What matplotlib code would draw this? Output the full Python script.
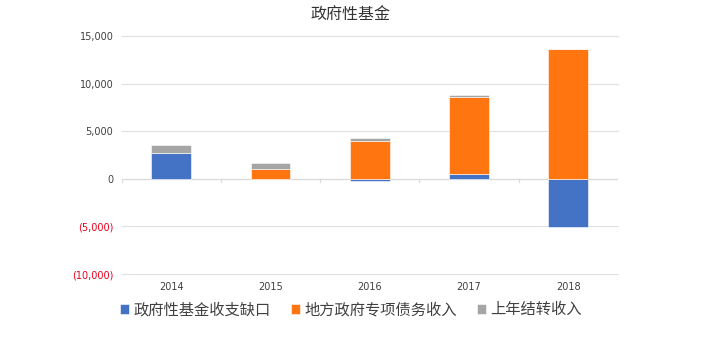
import matplotlib.pyplot as plt
import matplotlib.transforms as mtransforms
import numpy as np

plt.rcParams['font.family'] = ['Noto Sans CJK SC', 'DejaVu Sans']

years = ['2014', '2015', '2016', '2017', '2018']
gap = [2700, -30, -200, 500, -5100]             # 政府性基金收支缺口
special_bond = [0, 1080, 4000, 8060, 13630]     # 地方政府专项债务收入
carry_over = [850, 570, 300, 240, 0]            # 上年结转收入
series = [gap, special_bond, carry_over]
names = ['政府性基金收支缺口', '地方政府专项债务收入', '上年结转收入']
colors = ['#4472C4', '#FF7510', '#A5A5A5']

fig = plt.figure(figsize=(7.16, 3.5), dpi=100)
ax = fig.add_axes([0.170, 0.217, 0.693, 0.680])

x = np.arange(len(years))
pos_base = np.zeros(len(years))
neg_base = np.zeros(len(years))
for vals, name, c in zip(series, names, colors):
    v = np.array(vals, dtype=float)
    bottom = np.where(v >= 0, pos_base, neg_base)
    ax.bar(x, v, 0.4, bottom=bottom, color=c, label=name, zorder=3,
           edgecolor='white', linewidth=0.4)
    pos_base += np.where(v >= 0, v, 0)
    neg_base += np.where(v < 0, v, 0)

ax.set_xlim(-0.5, len(years) - 0.5)
ax.set_ylim(-10000, 15000)
yt = [-10000, -5000, 0, 5000, 10000, 15000]
ax.set_yticks(yt)
labels = []
for t in yt:
    labels.append('({:,})'.format(-t) if t < 0 else '{:,}'.format(t))
ax.set_yticklabels(labels, fontsize=7, family='DejaVu Sans')
for lab, t in zip(ax.get_yticklabels(), yt):
    lab.set_color('#E8001C' if t < 0 else '#404040')
ax.tick_params(axis='y', length=0, pad=6)
ax.set_xticks([])
for t in yt:
    if t != 0:
        ax.axhline(t, color='#E0E0E0', linewidth=0.8, zorder=0, clip_on=False)
for s in ax.spines.values():
    s.set_visible(False)

# zero line with category tick marks
ax.axhline(0, color='#D9D9D9', linewidth=0.9, zorder=2)
for b in np.arange(-0.5, len(years), 1.0):
    ax.plot([b, b], [0, -350], color='#D9D9D9', linewidth=0.9, zorder=2)

trans = mtransforms.blended_transform_factory(ax.transData, ax.transAxes)
for xi, yr in zip(x, years):
    ax.text(xi, -0.055, yr, transform=trans, ha='center', va='center',
            fontsize=7, color='#404040', family='DejaVu Sans')

fig.text(0.49, 0.955, '政府性基金', ha='center', va='center', fontsize=11.5,
         color='#333333')

fig.legend(loc='center', bbox_to_anchor=(0.49, 0.115), ncol=3, frameon=False,
           fontsize=11, handlelength=0.6, handleheight=0.6, handletextpad=0.3,
           columnspacing=1.3, labelcolor='#404040')

fig.savefig('out.png', dpi=100)
